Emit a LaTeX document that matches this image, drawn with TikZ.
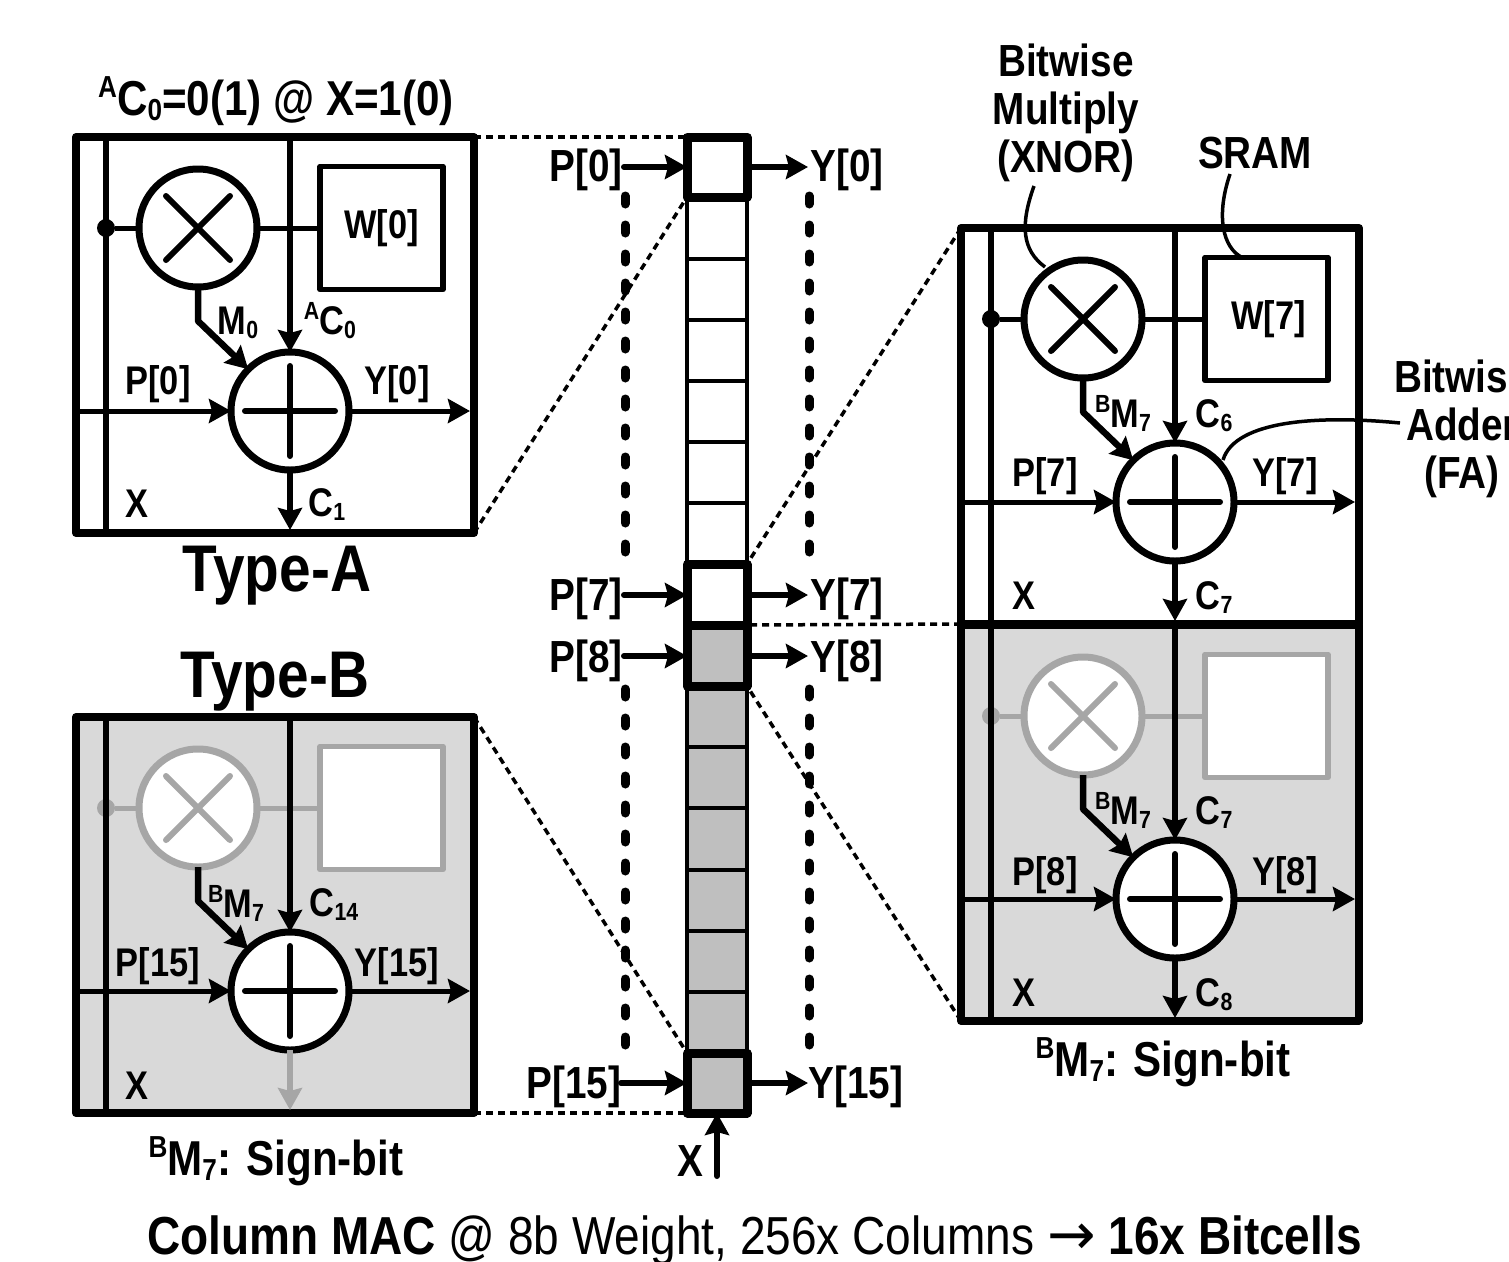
\documentclass[tikz,border=0pt]{standalone}
\usepackage{fontspec}
\setmainfont{Liberation Sans}[FakeStretch=.86]
\newfontfamily\arrowfont{DejaVu Sans}[FakeStretch=1.0]
\usetikzlibrary{arrows.meta}
\definecolor{fadeg}{HTML}{A6A6A6}
\definecolor{cellbg}{HTML}{D9D9D9}
\definecolor{colbg}{HTML}{BFBFBF}
\makeatletter
\newcommand\smallsup[1]{\raisebox{.36em}{\fontsize{\the\dimexpr\f@size pt*62/100\relax}{1pt}\selectfont #1}}
\newcommand\smallsub[1]{\raisebox{-.12em}{\fontsize{\the\dimexpr\f@size pt*62/100\relax}{1pt}\selectfont #1}}
\makeatother
\tikzset{
  x=1pt,y=-1pt,
  lab/.style={inner sep=0,outer sep=0,anchor=base,font=\fontsize{40}{46}\selectfont\bfseries},
  big/.style={lab,font=\fontsize{45}{50}\selectfont\bfseries},
  sub/.style={lab,font=\fontsize{49}{52}\selectfont\bfseries},
  huge/.style={lab,font=\fontsize{66}{70}\selectfont\bfseries},
  arr/.style={-{Stealth[length=22pt,width=24pt,inset=3pt]}},
  blockbox/.style={draw,line width=8pt,minimum width=398pt,minimum height=396pt,inner sep=0,outer sep=0,line join=round},
  opcircle/.style={circle,line width=7pt,fill=white,minimum size=118pt,inner sep=0,outer sep=0},
  wbox/.style={rectangle,line width=5.5pt,fill=white,minimum size=123pt,inner sep=0,outer sep=0,line join=round,font=\fontsize{40}{46}\selectfont\bfseries},
  wire/.style={line width=5pt},
  sign/.style={line width=6pt,line cap=round},
  junction/.style={circle,inner sep=0,minimum size=18pt},
  cellbox/.style={draw,line width=4.5pt,minimum width=60pt,inner sep=0,outer sep=0},
  heavy/.style={draw,line width=9pt,minimum width=60pt,inner sep=0,outer sep=0,line join=round},
  ioarrow/.style={arr,line width=6pt,line cap=round},
  dotcol/.style={line width=9pt,line cap=round,dash pattern=on 8pt off 21pt},
  zoomline/.style={line width=3.5pt,dash pattern=on 7pt off 5pt},
  callout/.style={line width=3.5pt},
  notetext/.style={inner sep=0,outer sep=0,align=center,font=\fontsize{45}{48}\selectfont\bfseries},
}
% id, box left, box top, colour of the multiplier part, carry colour, box fill, W text
\newcommand\bitblock[7]{%
  \node[blockbox,fill=#6,anchor=north west] (#1box) at (#2,#3) {};
  \node[junction,fill=#4] (#1dot) at (#2+30,#3+91) {};
  \node[opcircle,draw=#4] (#1m) at (#2+122,#3+91) {};
  \node[wbox,draw=#4] (#1w) at (#2+305.5,#3+91) {#7};
  \draw[wire,draw=#4] (#1dot) -- (#1m.west);
  \draw[wire,draw=#4] (#1m.east) -- (#1w.west);
  \draw[sign,draw=#4] ([shift={(-32,-32)}]#1m.center) -- ([shift={(32,32)}]#1m.center);
  \draw[sign,draw=#4] ([shift={(-32,32)}]#1m.center) -- ([shift={(32,-32)}]#1m.center);
  \node[opcircle,draw=black] (#1a) at (#2+214,#3+274) {};
  \draw[sign] ([shift={(-45,0)}]#1a.center) -- ([shift={(45,0)}]#1a.center);
  \draw[sign] ([shift={(0,-45)}]#1a.center) -- ([shift={(0,45)}]#1a.center);
  \coordinate (#1xt) at (#2+30,#3);
  \coordinate (#1xb) at (#2+30,#3+396);
  \draw[line width=5.5pt] (#1xt) -- (#1xb);
  \coordinate (#1ct) at (#2+214,#3);
  \draw[line width=5.5pt,arr] (#1ct) -- (#1a.north);
  \coordinate (#1pi) at (#2,#3+274);
  \coordinate (#1yo) at (#2+394,#3+274);
  \draw[wire,arr] (#1pi) -- (#1a.west);
  \draw[wire,arr] (#1a.east) -- (#1yo);
  \coordinate (#1cb) at (#2+214,#3+393);
  \draw[line width=5.5pt,arr,draw=#5,fill=#5] (#1a.south) -- (#1cb);
  \coordinate (#1mk) at (#2+122,#3+184);
  \draw[line width=6.5pt,arr,line join=bevel] (#1m.south) -- (#1mk) -- (#1a.north west);
}
\begin{document}
\begin{tikzpicture}
\useasboundingbox (0,0) rectangle (1509,1261);

% ---- blocks
\bitblock{A}{76}{137}{black}{black}{white}{W[0]}
\bitblock{B}{76}{717}{fadeg}{fadeg}{cellbg}{}
\bitblock{L}{961}{625}{fadeg}{black}{cellbg}{}
\bitblock{U}{961}{228}{black}{black}{white}{\hspace*{4pt}W[7]}

% ---- column
\foreach \i/\t/\b/\f in {0/137/197/white,1/197/259/white,2/259/320/white,3/320/381/white,4/381/442/white,5/442/503/white,6/503/564/white,7/564/625/white,
  8/625/686/colbg,9/686/747/colbg,10/747/808/colbg,11/808/870/colbg,12/870/931/colbg,13/931/992/colbg,14/992/1053/colbg,15/1053/1113/colbg}
  \node[cellbox,fill=\f,minimum height={(\b-\t)*1pt}] (c\i) at (717,{(\t+\b)/2}) {};
\foreach \i/\t/\b/\f in {0/137/197/white,7/564/625/white,8/625/686/colbg,15/1053/1113/colbg}
  \node[heavy,fill=\f,minimum height={(\b-\t)*1pt}] (h\i) at (717,{(\t+\b)/2}) {};

% ---- dotted vertical guides
\coordinate (g1) at (625,196); \coordinate (g2) at (625,558);
\coordinate (g3) at (809,196); \coordinate (g4) at (809,558);
\coordinate (g5) at (625,689); \coordinate (g6) at (625,1047);
\coordinate (g7) at (809,689); \coordinate (g8) at (809,1047);
\draw[dotcol] (g1) -- (g2);
\draw[dotcol] (g3) -- (g4);
\draw[dotcol] (g5) -- (g6);
\draw[dotcol] (g7) -- (g8);

% ---- zoom lines
\draw[zoomline] (Abox.north east) -- (h0.north west);
\draw[zoomline] (Abox.south east) -- (h0.south west);
\draw[zoomline] (Bbox.north east) -- (h15.north west);
\draw[zoomline] (Bbox.south east) -- (h15.south west);
\draw[zoomline] (Ubox.north west) -- (h7.north east);
\draw[zoomline] (Ubox.south west) -- (h7.south east);
\draw[zoomline] (Lbox.south west) -- (h8.south east);

% ---- column labels and arrows
\node[big] (p0) at (586,181) {P[0]};
\node[big] (y0) at (847,181) {Y[0]};
\node[big] (p7) at (586,610) {P[7]};
\node[big] (y7) at (847,610) {Y[7]};
\node[big] (p8) at (586,672) {P[8]};
\node[big] (y8) at (847,672) {Y[8]};
\node[big] (p15) at (574,1098) {P[15]};
\node[big] (y15) at (856,1098) {Y[15]};
\node[big] (xc) at (690,1176) {X};
\foreach \n/\yy/\sx in {0/167/624,7/595/624,8/656/624,15/1083/621}{
  \coordinate (ps\n) at (\sx,\yy);
  \coordinate (ye\n) at (808,\yy);
  \draw[ioarrow] (ps\n) -- (ps\n -| h\n.west);
  \draw[ioarrow] (ye\n -| h\n.east) -- (ye\n);
}
\coordinate (xs) at (717,1176);
\draw[ioarrow] (xs) -- (h15.south);

% ---- type A labels
\node[sub] (tatitle) at (276,115) {\smallsup{A}C\smallsub{0}=0(1) @ X=1(0)};
\node[lab] (am) at (238,334) {M\smallsub{0}};
\node[lab] (ac) at (330,334) {\smallsup{A}C\smallsub{0}};
\node[lab] (ap) at (158,394) {P[0]};
\node[lab] (ay) at (397,394) {Y[0]};
\node[lab] (ax) at (137,517) {X};
\node[lab] (ac1) at (327,516) {C\smallsub{1}};
\node[huge] (ta) at (277,591) {Type-A};

% ---- type B labels
\node[huge] (tb) at (275,697) {Type-B};
\node[lab] (bm) at (236,917) {\smallsup{B}M\smallsub{7}};
\node[lab] (bc) at (334,916) {C\smallsub{14}};
\node[lab] (bp) at (158,976) {P[15]};
\node[lab] (by) at (397,976) {Y[15]};
\node[lab] (bx) at (137,1099) {X};
\node[sub] (bs) at (276,1175) {\smallsup{B}M\smallsub{7}: Sign-bit};

% ---- right block labels
\node[lab] (um) at (1123,427) {\smallsup{B}M\smallsub{7}};
\node[lab] (uc) at (1214,427) {C\smallsub{6}};
\node[lab] (up) at (1045,486) {P[7]};
\node[lab] (uy) at (1285,486) {Y[7]};
\node[lab] (ux) at (1024,609) {X};
\node[lab] (uc7) at (1214,609) {C\smallsub{7}};
\node[lab] (lm) at (1123,824) {\smallsup{B}M\smallsub{7}};
\node[lab] (lc) at (1214,824) {C\smallsub{7}};
\node[lab] (lp) at (1045,885) {P[8]};
\node[lab] (ly) at (1285,885) {Y[8]};
\node[lab] (lx) at (1024,1006) {X};
\node[lab] (lc8) at (1214,1006) {C\smallsub{8}};
\node[sub] (rs) at (1163,1076) {\smallsup{B}M\smallsub{7}: Sign-bit};

% ---- annotations
\node[notetext] (nmul) at (1066,113) {Bitwise\\Multiply\\(XNOR)};
\node[lab,font=\fontsize{45}{48}\selectfont\bfseries] (nsram) at (1255,168) {SRAM};
\node[notetext] (nadd) at (1462,429) {Bitwise\\Adder\\(FA)};
\coordinate (m1) at (1034,186); \coordinate (m2) at (1045,267);
\draw[callout] (m1) .. controls (1020,225) and (1022,250) .. (m2);
\coordinate (s1) at (1230,174); \coordinate (s2) at (1243,258);
\draw[callout] (s1) .. controls (1216,215) and (1222,248) .. (s2);
\coordinate (f1) at (1400,423); \coordinate (f2) at (1223,460);
\draw[callout] (f1) .. controls (1320,415) and (1235,420) .. (f2);

% ---- bottom line
\node[lab,font=\fontsize{53.5}{56}\selectfont] (foot) at (754.5,1254) {\textbf{Column MAC} @ 8b Weight, 256x Columns {\arrowfont\fontsize{58}{60}\selectfont →} \textbf{16x Bitcells}};
\end{tikzpicture}
\end{document}
